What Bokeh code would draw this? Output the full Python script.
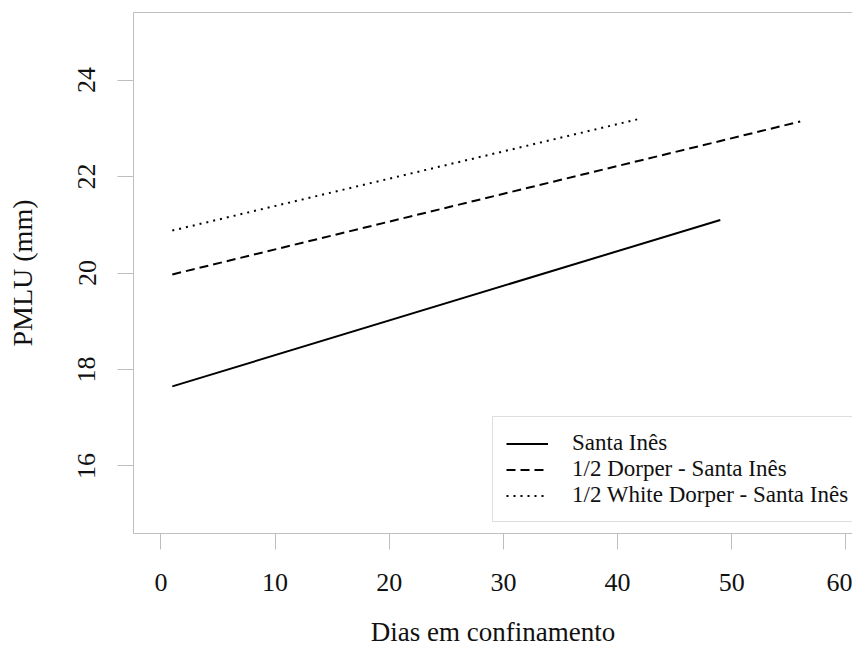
from bokeh.plotting import figure
from bokeh.models import Range1d, FixedTicker, LinearAxis, Legend, LegendItem
from bokeh.embed import file_html
from bokeh.resources import INLINE

# Data
days_si = [1, 49]
pmlu_si = [17.65, 21.10]
days_d = [1, 56]
pmlu_d = [19.97, 23.14]
days_wd = [1, 42]
pmlu_wd = [20.88, 23.20]

labels = ["Santa Inês", "1/2 Dorper - Santa Inês", "1/2 White Dorper - Santa Inês"]
x_ticks = [0, 10, 20, 30, 40, 50, 60]
y_ticks = [16, 18, 20, 22, 24]

FONT = "Liberation Serif"
GRAY = "#BEBEBE"

p = figure(width=852, height=649, output_backend="svg", toolbar_location=None,
           x_range=Range1d(-2.4, 60.58), y_range=Range1d(14.6, 25.4),
           min_border_left=133, min_border_right=0, min_border_top=12, min_border_bottom=115)
p.outline_line_color = None
p.xgrid.grid_line_color = None
p.ygrid.grid_line_color = None
p.background_fill_color = "white"
p.border_fill_color = "white"

for ax in (p.xaxis[0], p.yaxis[0]):
    ax.axis_line_color = GRAY
    ax.major_tick_line_color = GRAY
    ax.minor_tick_line_color = None
    ax.major_tick_in = 0
    ax.major_tick_out = 16
    ax.major_label_text_font = FONT
    ax.major_label_text_font_size = "26px"
    ax.major_label_text_color = "#111111"
    ax.axis_label_text_font = FONT
    ax.axis_label_text_font_style = "normal"
    ax.axis_label_text_font_size = "27px"
    ax.axis_label_text_color = "#111111"

p.xaxis[0].ticker = FixedTicker(ticks=x_ticks)
p.yaxis[0].ticker = FixedTicker(ticks=y_ticks)
p.xaxis[0].axis_label = "Dias em confinamento"
p.yaxis[0].axis_label = "PMLU (mm)"
p.yaxis[0].axis_label_text_font_size = "28px"
p.xaxis[0].major_label_standoff = 24
p.xaxis[0].axis_label_standoff = 23
p.yaxis[0].major_label_orientation = "vertical"
p.yaxis[0].major_label_standoff = 22
p.yaxis[0].axis_label_standoff = 38

top = LinearAxis(ticker=FixedTicker(ticks=[]), axis_line_color=GRAY,
                 major_tick_line_color=None, minor_tick_line_color=None,
                 major_label_text_font_size="0px")
p.add_layout(top, "above")

r1 = p.line(days_si, pmlu_si, line_color="black", line_width=2)
r2 = p.line(days_d, pmlu_d, line_color="black", line_width=2, line_dash="9 5")
r3 = p.line(days_wd, pmlu_wd, line_color="black", line_width=2, line_dash="2 5")

legend = Legend(items=[LegendItem(label=labels[0], renderers=[r1]),
                       LegendItem(label=labels[1], renderers=[r2]),
                       LegendItem(label=labels[2], renderers=[r3])],
                location=(359, 11), padding=13, spacing=0,
                glyph_width=42, glyph_height=25, label_height=25, label_standoff=24,
                label_text_font=FONT, label_text_font_size="23px",
                label_text_color="#111111",
                border_line_color=GRAY, border_line_width=1,
                background_fill_color="white", background_fill_alpha=1.0)
p.add_layout(legend)

open("out.html", "w").write(file_html(p, INLINE))
